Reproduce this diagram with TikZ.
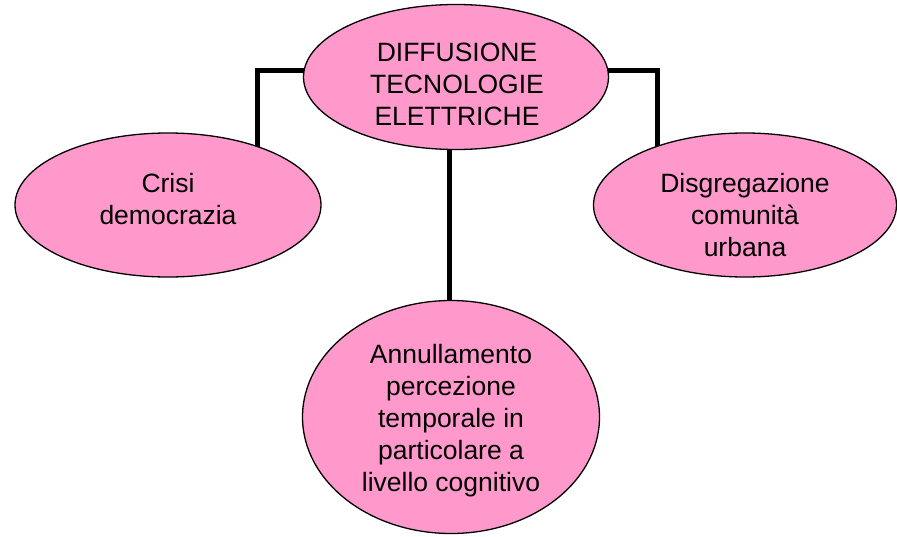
\documentclass[tikz,border=0pt]{standalone}
\usepackage{fontspec}
\setmainfont{Liberation Sans}
\usetikzlibrary{shapes.geometric,backgrounds}
\definecolor{pinkfill}{HTML}{FF99CC}
\tikzset{
  bubble/.style={ellipse, draw=black, line width=1.3pt, fill=pinkfill, inner sep=0pt},
  label text/.style={align=center, font=\fontsize{26.5}{32}\selectfont, inner sep=0pt},
  conn/.style={line width=5pt, draw=black}
}
\begin{document}
\begin{tikzpicture}[x=1pt,y=-1pt]
\useasboundingbox (0,0) rectangle (897,536);
\node[bubble, minimum width=305pt, minimum height=145pt] (top) at (456,77) {};
\node[bubble, minimum width=306pt, minimum height=144pt] (left) at (168,205) {};
\node[bubble, minimum width=303pt, minimum height=144pt] (right) at (745,205) {};
\node[bubble, minimum width=297pt, minimum height=233pt] (bot) at (451,417) {};
\node[label text] (ttop) at (457,84) {DIFFUSIONE\\TECNOLOGIE\\ELETTRICHE};
\node[label text] (tleft) at (168,199) {Crisi\\democrazia};
\node[label text] (tright) at (745,215) {Disgregazione\\comunità\\urbana};
\node[label text] (tbot) at (451,421) {Annullamento\\percezione\\temporale in\\particolare a\\livello cognitivo};
\coordinate (lc) at (257,70);
\coordinate (rc) at (657,70);
\coordinate (cc) at (449,150);
\begin{scope}[on background layer]
\draw[conn] (top.center |- lc) -- (lc) -- (lc |- left.center);
\draw[conn] (top.center |- rc) -- (rc) -- (rc |- right.center);
\draw[conn] (cc |- top.center) -- (cc |- bot.center);
\end{scope}
\end{tikzpicture}
\end{document}
